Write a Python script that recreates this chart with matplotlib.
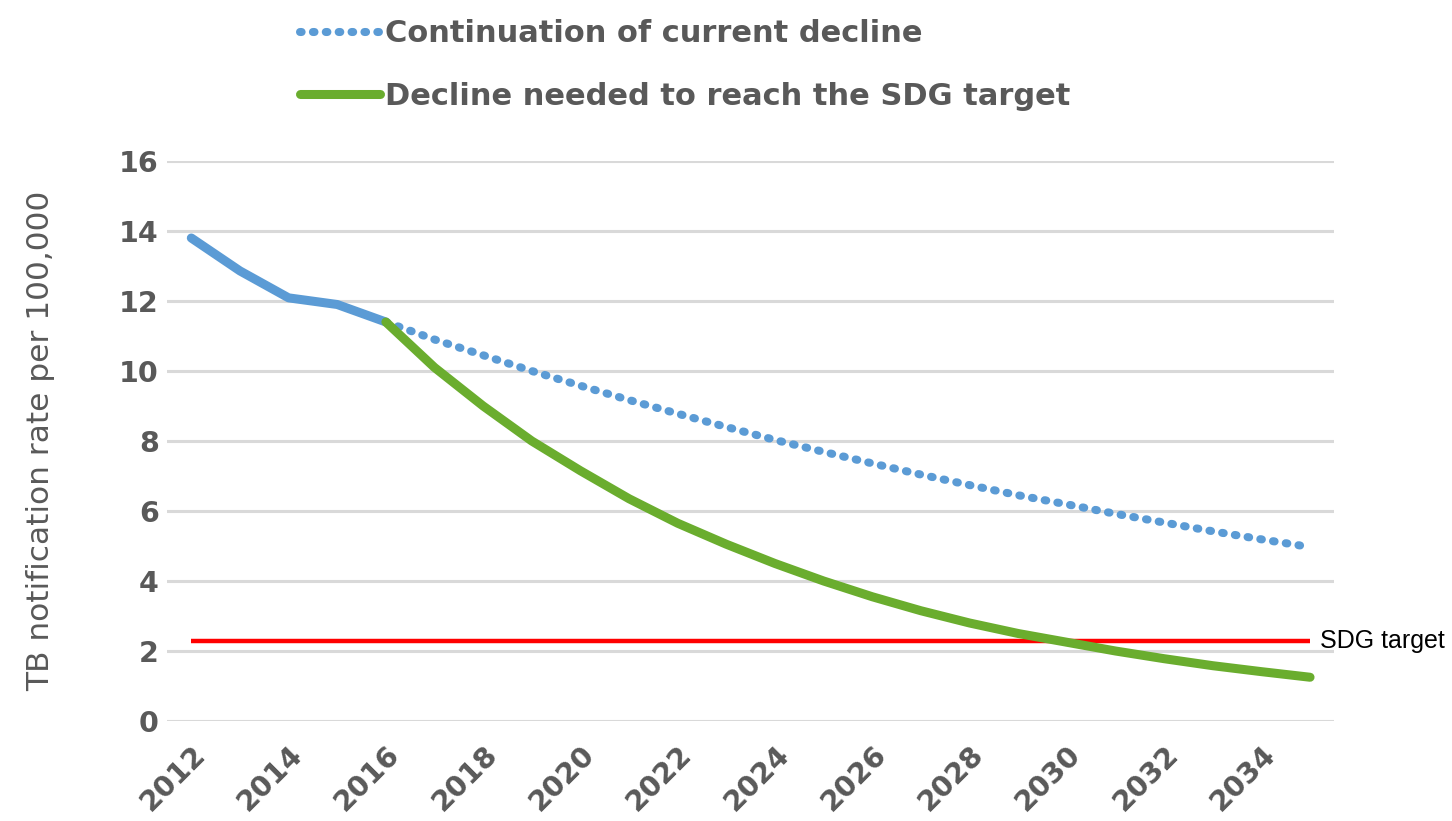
import matplotlib
matplotlib.use("Agg")
import matplotlib.pyplot as plt

# observed rates 2012-2016
years_obs = [2012, 2013, 2014, 2015, 2016]
rate_obs = [13.8, 12.86, 12.09, 11.9, 11.4]

# projections 2016-2035
years_proj = list(range(2016, 2036))
rate_current = [11.4, 10.9, 10.45, 10.0, 9.58, 9.17, 8.78, 8.4, 8.03, 7.69,
                7.36, 7.04, 6.74, 6.45, 6.19, 5.92, 5.67, 5.42, 5.19, 4.97]
rate_needed = [11.4, 10.1, 9.0, 8.0, 7.15, 6.35, 5.65, 5.05, 4.5, 4.0,
               3.55, 3.15, 2.8, 2.5, 2.25, 2.0, 1.78, 1.58, 1.41, 1.25]

sdg_target = 2.28
tick_years = list(range(2012, 2036, 2))
y_ticks = [0, 2, 4, 6, 8, 10, 12, 14, 16]

BLUE = "#5B9BD5"
GREEN = "#6AAD2E"
RED = "#FF0000"
GRID = "#D9D9D9"
TEXT = "#595959"

fig = plt.figure(figsize=(14.52, 8.21), dpi=100)
ax = fig.add_axes([0.115, 0.1218, 0.804, 0.6821])

ax.hlines(sdg_target, years_obs[0], years_proj[-1], color=RED, lw=3.2, zorder=3)
ax.plot(years_proj, rate_current, color=BLUE, lw=5.8, linestyle=(0, (0.2, 1.4)),
        dash_capstyle="round", zorder=4, label="Continuation of current decline")
ax.plot(years_obs, rate_obs, color=BLUE, lw=6.5, solid_capstyle="round", zorder=4)
ax.plot(years_proj, rate_needed, color=GREEN, lw=6.5, solid_capstyle="round",
        zorder=5, label="Decline needed to reach the SDG target")

ax.text(2035.2, sdg_target, "SDG target", fontsize=18, family="Liberation Sans",
        color="black", va="center", ha="left")

ax.set_xlim(2011.5, 2035.5)
ax.set_ylim(0, 16)
ax.set_yticks(y_ticks)
ax.set_xticks(tick_years)
ax.set_xticklabels([str(y) for y in tick_years], rotation=45, ha="right",
                   rotation_mode="anchor")
ax.tick_params(axis="both", length=0, labelsize=20.5, labelcolor=TEXT)
for lbl in ax.get_xticklabels() + ax.get_yticklabels():
    lbl.set_fontweight("bold")
ax.tick_params(axis="y", pad=6)
ax.tick_params(axis="x", pad=14)
ax.grid(axis="y", color=GRID, lw=2.2)
ax.set_axisbelow(True)
for s in ax.spines.values():
    s.set_visible(False)

ax.set_ylabel("TB notification rate per 100,000", fontsize=22.5, color=TEXT,
              labelpad=46)

fig.legend(loc="upper left", bbox_to_anchor=(0.188, 1.01), frameon=False,
           prop={"size": 22, "weight": "bold"}, labelcolor=TEXT,
           handlelength=2.6, handletextpad=0.15, labelspacing=1.1)

fig.savefig("out.png", dpi=100)
